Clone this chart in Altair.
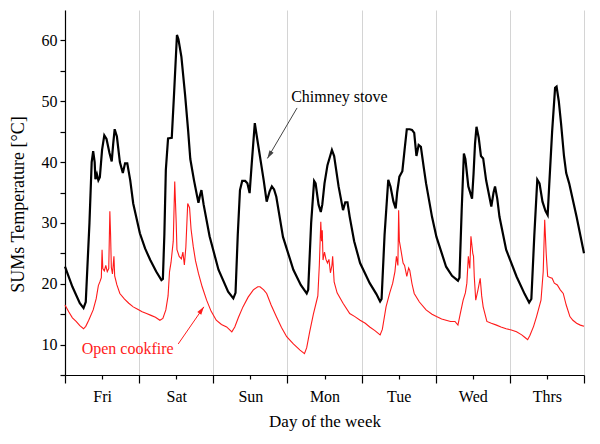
import altair as alt
import pandas as pd

days = ["Fri", "Sat", "Sun", "Mon", "Tue", "Wed", "Thrs"]

black_x = [0.00, 0.10, 0.20, 0.25, 0.28, 0.33, 0.36, 0.38, 0.40, 0.41, 0.43, 0.45, 0.47, 0.50, 0.53,
           0.56, 0.60, 0.63, 0.65, 0.67, 0.70, 0.74, 0.78, 0.81, 0.84, 0.88, 0.92, 1.01, 1.08, 1.15,
           1.23, 1.30, 1.32, 1.34, 1.36, 1.39, 1.44, 1.47, 1.51, 1.53, 1.57, 1.62, 1.66, 1.69, 1.74,
           1.78, 1.80, 1.82, 1.84, 1.87, 1.95, 2.07, 2.20, 2.27, 2.30, 2.33, 2.36, 2.39, 2.43, 2.46,
           2.49, 2.52, 2.56, 2.59, 2.63, 2.68, 2.72, 2.76, 2.79, 2.82, 2.85, 2.94, 3.08, 3.18, 3.26,
           3.28, 3.32, 3.36, 3.38, 3.42, 3.45, 3.47, 3.50, 3.54, 3.60, 3.63, 3.69, 3.75, 3.78, 3.81,
           3.84, 3.90, 3.98, 4.11, 4.20, 4.25, 4.27, 4.31, 4.36, 4.39, 4.43, 4.46, 4.48, 4.51, 4.55,
           4.58, 4.61, 4.65, 4.68, 4.71, 4.74, 4.77, 4.80, 4.84, 4.87, 4.95, 5.01, 5.14, 5.22, 5.30,
           5.32, 5.35, 5.38, 5.40, 5.44, 5.49, 5.51, 5.53, 5.55, 5.58, 5.61, 5.64, 5.68, 5.75, 5.78,
           5.80, 5.83, 5.86, 5.95, 6.09, 6.20, 6.26, 6.29, 6.33, 6.37, 6.40, 6.44, 6.48, 6.51, 6.53,
           6.57, 6.61, 6.63, 6.66, 6.69, 6.73, 6.76, 6.80, 6.90, 7.00]
black_y = [22.8, 19.5, 16.8, 16.0, 17.0, 30.0, 40.0, 41.8, 40.0, 37.2, 38.0, 37.0, 37.5, 42.0, 44.4,
           43.8, 41.5, 40.1, 43.0, 45.4, 44.2, 40.0, 38.2, 39.8, 39.8, 37.0, 33.2, 28.3, 25.8, 23.9,
           22.0, 20.6, 20.8, 28.0, 38.7, 43.9, 44.0, 51.0, 60.9, 60.2, 57.3, 51.0, 45.3, 40.5, 37.0,
           34.5, 33.3, 34.5, 35.4, 33.0, 27.8, 22.3, 18.7, 17.6, 18.5, 28.0, 35.4, 36.9, 36.9, 36.5,
           34.9, 40.0, 46.4, 44.0, 40.9, 37.0, 33.5, 35.2, 36.0, 35.5, 34.3, 27.7, 22.3, 19.8, 18.4,
           19.0, 30.0, 36.9, 36.5, 33.0, 31.8, 33.0, 36.5, 39.5, 42.0, 41.0, 36.0, 32.1, 33.4, 33.4,
           31.0, 27.0, 23.4, 20.1, 18.3, 17.1, 17.5, 28.0, 37.1, 36.0, 33.5, 32.4, 35.0, 37.6, 38.5,
           42.0, 45.4, 45.4, 45.3, 44.8, 41.0, 42.8, 42.5, 39.0, 36.5, 31.0, 27.7, 22.8, 21.3, 20.5,
           21.0, 32.0, 41.4, 40.5, 36.0, 34.0, 38.0, 43.0, 45.8, 44.0, 41.0, 40.6, 37.0, 32.7, 35.0,
           36.0, 34.0, 31.0, 25.6, 21.2, 18.3, 16.9, 17.5, 28.0, 37.1, 36.5, 33.5, 32.0, 31.3, 36.0,
           45.0, 52.2, 52.4, 50.0, 46.4, 41.0, 38.2, 36.5, 31.0, 25.0]

red_x = [0.00, 0.05, 0.10, 0.15, 0.20, 0.25, 0.28, 0.32, 0.38, 0.42, 0.45, 0.47, 0.49, 0.50, 0.51,
         0.53, 0.55, 0.57, 0.59, 0.605, 0.615, 0.625, 0.64, 0.66, 0.67, 0.70, 0.74, 0.80, 0.86, 0.92,
         0.98, 1.04, 1.10, 1.16, 1.22, 1.28, 1.32, 1.36, 1.39, 1.41, 1.43, 1.46, 1.48, 1.50, 1.51,
         1.54, 1.57, 1.59, 1.61, 1.63, 1.655, 1.68, 1.70, 1.73, 1.76, 1.80, 1.85, 1.91, 1.97, 2.04,
         2.11, 2.18, 2.25, 2.29, 2.34, 2.40, 2.47, 2.54, 2.60, 2.63, 2.68, 2.72, 2.78, 2.85, 2.92,
         2.99, 3.08, 3.17, 3.23, 3.26, 3.30, 3.35, 3.39, 3.41, 3.43, 3.45, 3.46, 3.47, 3.48, 3.50,
         3.52, 3.54, 3.56, 3.58, 3.60, 3.61, 3.63, 3.67, 3.75, 3.84, 3.91, 3.98, 4.05, 4.11, 4.18,
         4.25, 4.28, 4.33, 4.38, 4.42, 4.45, 4.47, 4.49, 4.50, 4.51, 4.53, 4.56, 4.58, 4.61, 4.635,
         4.65, 4.68, 4.71, 4.78, 4.87, 4.95, 5.01, 5.08, 5.14, 5.20, 5.26, 5.30, 5.33, 5.37, 5.40,
         5.42, 5.44, 5.46, 5.475, 5.49, 5.50, 5.51, 5.52, 5.54, 5.57, 5.60, 5.62, 5.64, 5.69, 5.75,
         5.82, 5.88, 5.95, 6.02, 6.09, 6.16, 6.20, 6.24, 6.27, 6.32, 6.36, 6.42, 6.45, 6.47, 6.49,
         6.51, 6.55, 6.57, 6.60, 6.64, 6.68, 6.72, 6.76, 6.81, 6.85, 6.90, 6.95, 7.00]
red_y = [16.5, 15.4, 14.4, 13.8, 13.1, 12.6, 13.0, 14.0, 15.7, 17.5, 19.7, 20.3, 21.0, 25.6, 22.5,
         22.1, 23.0, 22.0, 22.5, 31.9, 28.0, 22.7, 21.6, 24.5, 21.3, 19.8, 18.4, 17.5, 16.8, 16.2,
         15.8, 15.4, 15.1, 14.8, 14.5, 14.0, 14.3, 15.7, 18.0, 22.0, 23.5, 27.0, 36.8, 30.0, 25.6,
         24.5, 24.1, 25.2, 23.1, 26.0, 33.2, 32.5, 29.0, 26.1, 23.8, 21.7, 19.5, 17.3, 15.5, 14.0,
         13.3, 12.9, 12.1, 12.9, 14.5, 16.2, 17.8, 19.0, 19.5, 19.5, 19.0, 18.4, 16.5, 14.6, 12.8,
         11.3, 10.1, 9.1, 8.5, 9.5, 12.1, 15.0, 17.0, 18.0, 23.0, 30.2, 27.0, 28.8, 23.9, 25.2,
         24.0, 23.4, 24.0, 21.8, 23.0, 24.5, 20.3, 18.5, 16.8, 15.1, 14.6, 14.0, 13.5, 12.9, 12.3,
         11.6, 12.5, 16.2, 18.5, 20.1, 22.0, 24.5, 23.0, 32.1, 27.0, 25.6, 23.4, 23.0, 21.2, 22.6,
         22.2, 20.0, 18.4, 17.0, 15.7, 15.0, 14.6, 14.2, 14.0, 13.8, 13.8, 13.2, 15.0, 17.3, 18.5,
         20.1, 24.5, 22.5, 27.8, 26.1, 25.0, 24.5, 21.2, 17.3, 19.0, 20.9, 18.0, 16.2, 13.8, 13.5,
         13.2, 12.9, 12.6, 12.4, 12.1, 11.6, 11.2, 10.8, 11.5, 13.0, 14.6, 17.3, 22.0, 30.5, 25.0,
         21.2, 21.0, 20.9, 20.1, 19.8, 19.0, 18.4, 16.5, 14.6, 14.0, 13.5, 13.2, 13.0]

# annotations (data coordinates)
label_text = ["Chimney stove", "Open cookfire"]
label_x = [3.05, 0.225]
label_y = [50.7, 9.3]
arrow_x = [3.13, 1.527]
arrow_y = [48.9, 10.1]
arrow_x2 = [2.73, 1.873]
arrow_y2 = [40.6, 16.2]

FONT = "Liberation Serif"

black_df = pd.DataFrame({"day": black_x, "temp": black_y})
red_df = pd.DataFrame({"day": red_x, "temp": red_y})

xs = alt.Scale(domain=[0, 7], nice=False, zero=False)
ys = alt.Scale(domain=[5, 65], nice=False, zero=False)

day_expr = str(days) + "[floor(datum.value)]"

# major x axis: day boundaries with grid lines, no labels
x_axis_major = alt.Axis(
    orient="bottom",
    values=list(range(0, 8)),
    labels=False,
    title="Day of the week",
    grid=True,
    gridColor="#d4d4d4",
    gridWidth=1,
    tickSize=8,
    titlePadding=30,
)
# minor x axis: day names at mid-day
x_axis_minor = alt.Axis(
    orient="bottom",
    values=[i + 0.5 for i in range(7)],
    labelExpr=day_expr,
    title=None,
    grid=False,
    domain=False,
    tickSize=4,
    labelOverlap=False,
    labelFlush=False,
    labelPadding=9,
    labelFontSize=16,
)
y_axis = alt.Axis(
    values=list(range(5, 61, 5)),
    labelExpr="datum.value % 10 == 0 ? datum.value : ''",
    title="SUMs Temperature [°C]",
    grid=False,
    tickSize=5,
    labelOverlap=False,
    labelFlush=False,
    labelPadding=3,
    labelFontSize=16,
    titleFontSize=18,
    titleX=-38,
    titleY=194,
)


def yenc(field):
    return alt.Y(field, scale=ys, axis=y_axis)


black_line = alt.Chart(black_df).mark_line(color="black", strokeWidth=2.2).encode(
    x=alt.X("day:Q", scale=xs, axis=x_axis_major),
    y=yenc("temp:Q"),
)
red_line = alt.Chart(red_df).mark_line(color="#ff1a1a", strokeWidth=1.1).encode(
    x=alt.X("day:Q", scale=xs, axis=x_axis_minor),
    y=yenc("temp:Q"),
)

ann = pd.DataFrame({
    "text": label_text, "lx": label_x, "ly": label_y,
    "ax": arrow_x, "ay": arrow_y, "ax2": arrow_x2, "ay2": arrow_y2,
    "kind": ["chimney", "cookfire"],
})
ann_color = alt.Color("kind:N", scale=alt.Scale(domain=["chimney", "cookfire"],
                                                range=["#000000", "#ff1a1a"]), legend=None)

texts = alt.Chart(ann).mark_text(align="left", baseline="middle", font=FONT, fontSize=16).encode(
    x=alt.X("lx:Q", scale=xs, axis=None), y=yenc("ly:Q"),
    text="text:N", color=ann_color)

arrow_color = alt.Color("kind:N", scale=alt.Scale(domain=["chimney", "cookfire"],
                                                  range=["#444444", "#ff1a1a"]), legend=None)
rules = alt.Chart(ann).mark_rule(strokeWidth=1).encode(
    x=alt.X("ax:Q", scale=xs, axis=None), y=yenc("ay:Q"),
    x2="ax2:Q", y2="ay2:Q", color=arrow_color)

head1 = alt.Chart(ann[ann.kind == "chimney"]).mark_point(
    shape="M0,0L-0.3,1L0.3,1Z", filled=True, size=256, opacity=1, angle=211, color="#444444"
).encode(x=alt.X("ax2:Q", scale=xs, axis=None), y=yenc("ay2:Q"))
head2 = alt.Chart(ann[ann.kind == "cookfire"]).mark_point(
    shape="M0,0L-0.3,1L0.3,1Z", filled=True, size=256, opacity=1, angle=35, color="#ff1a1a"
).encode(x=alt.X("ax2:Q", scale=xs, axis=None), y=yenc("ay2:Q"))

chart = alt.layer(black_line, red_line, rules, head1, head2, texts).resolve_scale(
    color="independent"
).resolve_axis(
    x="independent"
).properties(
    width=519, height=365,
    autosize=alt.AutoSizeParams(type="none"),
    padding={"left": 57, "top": 2, "right": 8, "bottom": 60},
).configure_view(stroke=None).configure_axis(
    domainColor="black", tickColor="black", labelColor="black", titleColor="black",
    labelFont=FONT, titleFont=FONT, labelFontSize=16, titleFontSize=17,
    titleFontWeight="normal", domainWidth=1.2, tickWidth=1.2,
)

chart.save("out.html", embed_options={"renderer": "svg", "actions": False})
